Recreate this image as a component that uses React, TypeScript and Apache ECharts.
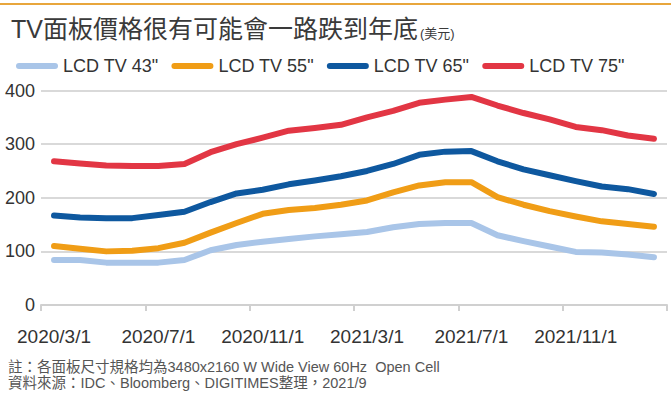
import React, { useEffect, useRef } from "react";
import * as echarts from "echarts";

const months = [
  "2020/3/1", "2020/4/1", "2020/5/1", "2020/6/1", "2020/7/1", "2020/8/1",
  "2020/9/1", "2020/10/1", "2020/11/1", "2020/12/1", "2021/1/1", "2021/2/1",
  "2021/3/1", "2021/4/1", "2021/5/1", "2021/6/1", "2021/7/1", "2021/8/1",
  "2021/9/1", "2021/10/1", "2021/11/1", "2021/12/1", "2022/1/1", "2022/2/1",
];

const lcd43 = [84, 84, 79, 79, 79, 84, 102, 112, 118, 123, 128, 132, 136, 145, 151, 153, 153, 130, 119, 109, 99, 98, 94, 89];
const lcd55 = [110, 105, 100, 101, 106, 116, 135, 153, 170, 177, 181, 187, 195, 210, 223, 229, 229, 201, 187, 175, 165, 156, 151, 146];
const lcd65 = [167, 163, 162, 162, 168, 174, 192, 208, 215, 225, 232, 240, 250, 263, 280, 286, 287, 268, 253, 242, 231, 221, 216, 207];
const lcd75 = [268, 264, 260, 259, 259, 263, 285, 300, 312, 325, 330, 336, 350, 362, 377, 383, 388, 372, 358, 346, 332, 326, 316, 310];

const seriesNames = ['LCD TV 43"', 'LCD TV 55"', 'LCD TV 65"', 'LCD TV 75"'];
const seriesColors = ["#a9c5e8", "#f09d16", "#0e589f", "#e23644"];
const yTicks = [0, 100, 200, 300, 400];

const titleText = "TV面板價格很有可能會一路跌到年底";
const unitText = "(美元)";
const note1 = "註：各面板尺寸規格均為3480x2160 W Wide View 60Hz  Open Cell";
const note2 = "資料來源：IDC、Bloomberg、DIGITIMES整理，2021/9";

const FONT = '"Liberation Sans", "Noto Sans CJK TC", sans-serif';

export default function App() {
  const ref = useRef<HTMLDivElement>(null);

  useEffect(() => {
    document.body.style.margin = "0";
    const chart = echarts.init(ref.current!, null, { renderer: "svg" });
    const values = [lcd43, lcd55, lcd65, lcd75];
    chart.setOption({
      animation: false,
      backgroundColor: "#ffffff",
      textStyle: { fontFamily: FONT },
      title: {
        text: `{a|${titleText}}{b|${unitText}}`,
        left: 6,
        top: 9,
        textStyle: {
          fontWeight: "normal",
          rich: {
            a: { fontSize: 25, color: "#3a3a3a", fontFamily: FONT, fontWeight: "normal", lineHeight: 30 },
            b: { fontSize: 13, color: "#3a3a3a", fontFamily: FONT, fontWeight: "normal", lineHeight: 30, verticalAlign: "bottom", padding: [0, 0, 4, 2] },
          },
        },
      },
      legend: {
        left: 11,
        top: 51,
        itemWidth: 42,
        itemHeight: 6,
        itemGap: 13,
        icon: "path://M3,0L39,0A3,3,0,0,1,39,6L3,6A3,3,0,0,1,3,0Z",
        textStyle: { fontSize: 18, color: "#333", fontFamily: FONT, lineHeight: 20 },
        data: seriesNames,
      },
      graphic: [
        { type: "rect", shape: { x: 0, y: 3, width: 671, height: 2 }, style: { fill: "#e8a63c" } },
        { type: "text", x: 8, y: 367, style: { text: note1, fill: "#555", font: `14.5px ${FONT}`, verticalAlign: "middle" } },
        { type: "text", x: 8, y: 383, style: { text: note2, fill: "#555", font: `14.5px ${FONT}`, verticalAlign: "middle" } },
      ],
      grid: { left: 41, right: 4, top: 90.5, bottom: 93, containLabel: false },
      xAxis: {
        type: "category",
        data: months,
        boundaryGap: true,
        axisLine: { lineStyle: { color: "#d0d0d0", width: 2 } },
        axisTick: { show: true, interval: 3, length: 6, lineStyle: { color: "#d0d0d0", width: 2 } },
        axisLabel: { interval: 3, fontSize: 19, color: "#333", margin: 22, fontFamily: FONT },
        splitLine: { show: false },
      },
      yAxis: {
        type: "value",
        min: yTicks[0],
        max: yTicks[yTicks.length - 1],
        interval: 100,
        axisLine: { show: false },
        axisTick: { show: false },
        axisLabel: { fontSize: 18, color: "#333", margin: 6, fontFamily: FONT },
        splitLine: { lineStyle: { color: "#d9d9d9", width: 2 } },
      },
      series: seriesNames.map((name, i) => ({
        name,
        type: "line",
        data: values[i],
        color: seriesColors[i],
        symbol: "none",
        lineStyle: { width: 6, cap: "round", join: "round", color: seriesColors[i] },
        itemStyle: { color: seriesColors[i] },
        z: 2 + i,
      })),
    });
    return () => chart.dispose();
  }, []);

  return (
    <div
      ref={ref}
      style={{ position: "absolute", left: 0, top: 0, width: 671, height: 398 }}
    />
  );
}
